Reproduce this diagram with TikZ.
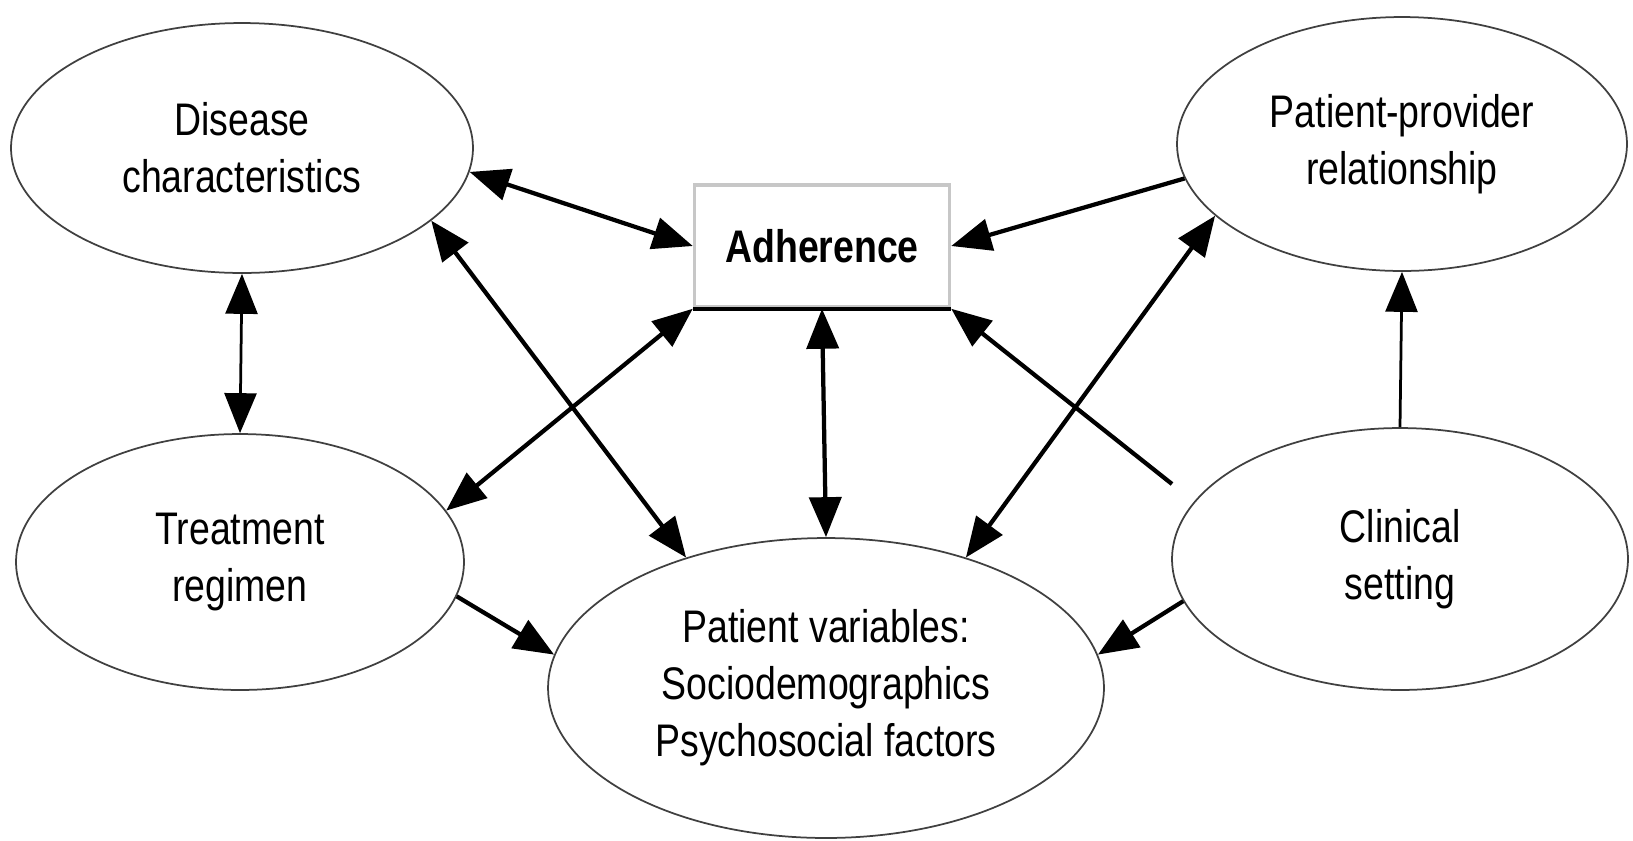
\documentclass[tikz,border=0pt]{standalone}
\usepackage{fontspec}
\setmainfont{Liberation Sans}[FakeStretch=0.82]
\usetikzlibrary{arrows.meta,shapes.geometric}

\begin{document}
\begin{tikzpicture}[x=0.02cm,y=-0.02cm,
		>={Triangle[length=0.8cm,width=0.64cm]},
		factor/.style={ellipse,draw=black!75,line width=0.035cm,inner sep=0pt,align=center,font=\fontsize{26pt}{32.4pt}\selectfont},
		link/.style={line width=0.085cm},
		weak/.style={line width=0.055cm}]
		\useasboundingbox (0,0) rectangle (1633,840);

		\node[factor,minimum width=9.24cm,minimum height=5cm] (dis) at (242,148) {Disease\\characteristics};
		\node[factor,minimum width=9cm,minimum height=5.08cm] (ppr) at (1402,144) {Patient-provider\\relationship};
		\node[factor,minimum width=8.96cm,minimum height=5.12cm] (trt) at (240,562) {Treatment\\regimen};
		\node[factor,minimum width=9.12cm,minimum height=5.24cm] (cs) at (1400,559) {Clinical\\setting};
		\node[factor,minimum width=11.12cm,minimum height=6cm] (pv) at (826,688) {Patient variables:\\Sociodemographics\\Psychosocial factors};
		\node[draw=black!22,line width=0.07cm,minimum width=5.1cm,minimum height=2.44cm,font=\fontsize{26pt}{32.4pt}\selectfont\bfseries] (adh) at (822,246) {Adherence};
		\draw[link] (adh.south west) -- (adh.south east);

		\coordinate (csgap) at (1172,484);

		\draw[link,<->] (dis.-6) -- (adh.west);
		\draw[weak,<->] (dis.south) -- (trt.north);
		\draw[link,<->] (dis.-21) -- (pv.137);
		\draw[link,<->] (trt.14) -- (adh.south west);
		\draw[link,<->] (adh.south) -- (pv.north);
		\draw[link,->] (ppr.189) -- (adh.east);
		\draw[link,->] (csgap) -- (adh.south east);
		\draw[link,<->] (pv.43) -- (ppr.201);
		\draw[weak,->] (cs.north) -- (ppr.south);
		\draw[link,->] (trt.-9) -- (pv.173);
		\draw[link,->] (cs.191) -- (pv.7);
	\end{tikzpicture}
\end{document}
